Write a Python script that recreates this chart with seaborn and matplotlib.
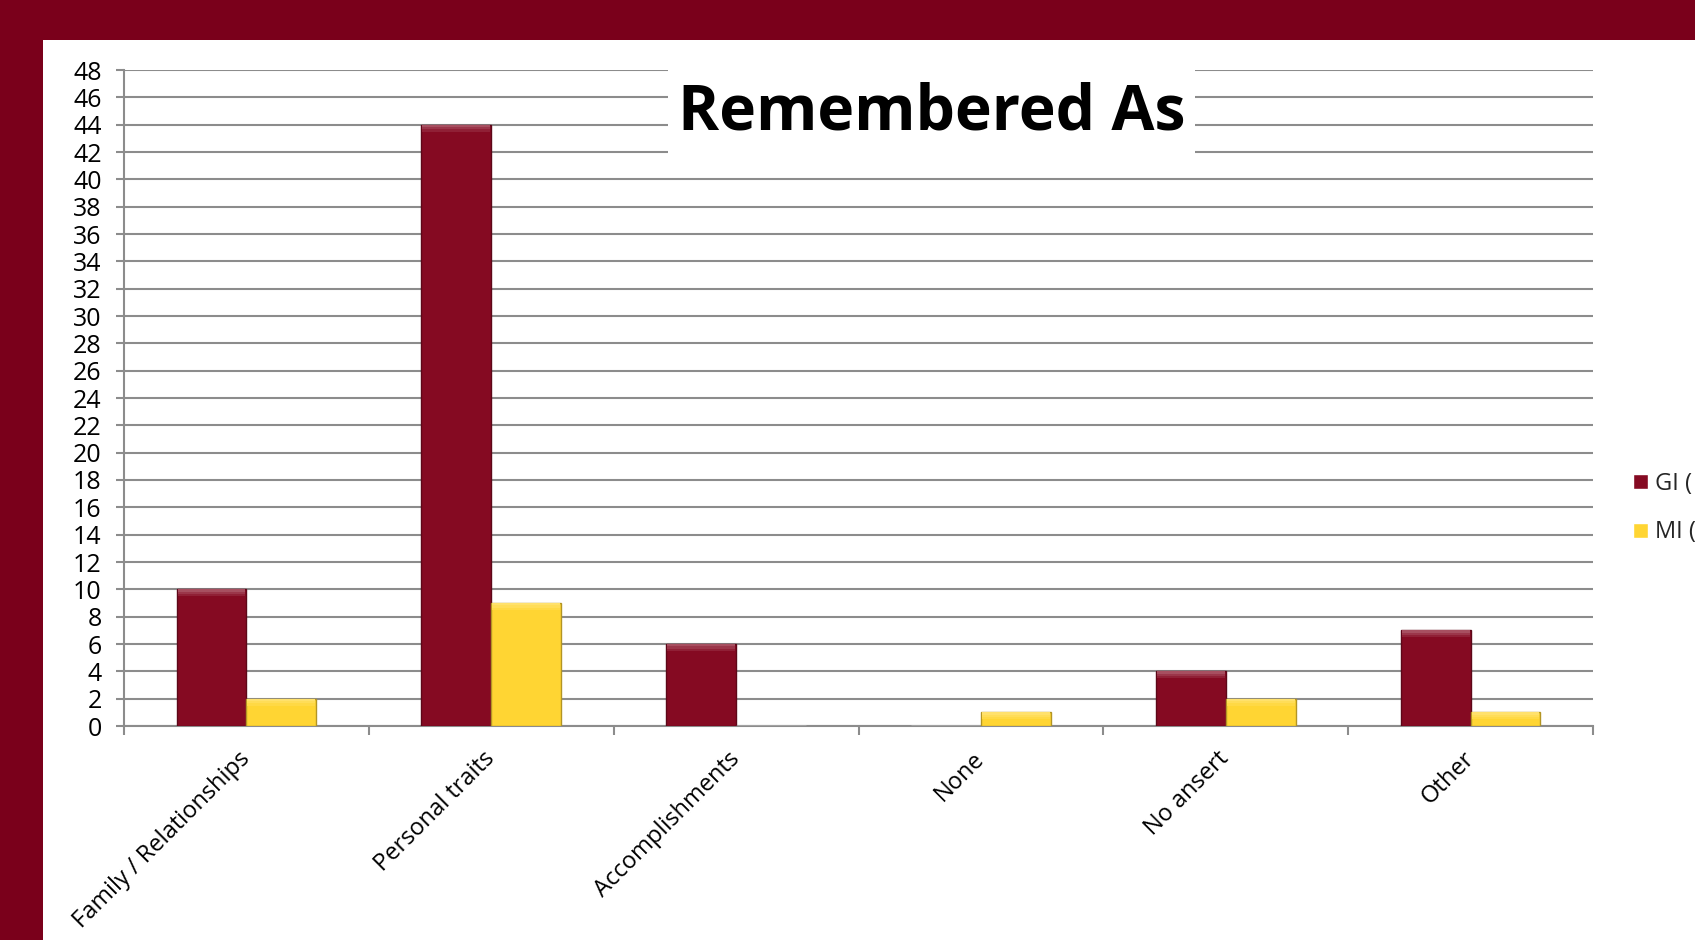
import pandas as pd
import matplotlib.pyplot as plt
import seaborn as sns
from matplotlib.patches import Rectangle

# chart data
categories = ['Family / Relationships', 'Personal traits', 'Accomplishments',
              'None', 'No ansert', 'Other']
gi_counts = [10, 44, 6, 0, 4, 7]
mi_counts = [2, 9, 0, 1, 2, 1]
series_names = ['GI (', 'MI (']
y_ticks = list(range(0, 49, 2))

frame_red = '#7A001B'
bar_red = '#850A22'
bar_yellow = '#FFD533'
grid_grey = '#8C8C8C'

df = pd.DataFrame({
    'category': categories * 2,
    'count': gi_counts + mi_counts,
    'series': [series_names[0]] * len(categories) + [series_names[1]] * len(categories),
})

sns.set_theme(style='white')
plt.rcParams['font.family'] = ['Open Sans', 'DejaVu Sans']

fig = plt.figure(figsize=(16.95, 9.40), dpi=100)
fig.patch.set_facecolor('white')

# dark red slide frame (top band and left band)
fig.patches.append(Rectangle((0, 1 - 40 / 940), 1, 40 / 940, transform=fig.transFigure,
                             facecolor=frame_red, edgecolor='none', zorder=0))
fig.patches.append(Rectangle((0, 0), 43 / 1695, 1, transform=fig.transFigure,
                             facecolor=frame_red, edgecolor='none', zorder=0))

ax = fig.add_axes([124 / 1695, 1 - 726 / 940, (1593 - 124) / 1695, (726 - 70) / 940])
ax.set_facecolor('none')

sns.barplot(data=df, x='category', y='count', hue='series', order=categories,
            hue_order=series_names, palette=[bar_red, bar_yellow], width=0.57,
            saturation=1, ax=ax, legend=True, zorder=3)

# bevel-ish look: darker edge + soft lighter strips at the top of every bar
for bar in ax.patches:
    h = bar.get_height()
    if h <= 0:
        continue
    fc = bar.get_facecolor()
    bar.set_edgecolor((fc[0] * 0.7, fc[1] * 0.7, fc[2] * 0.7, 1))
    bar.set_linewidth(1.0)
    for k, amt in enumerate([0.28, 0.18, 0.09]):
        light = tuple(min(1, c + (1 - c) * amt) for c in fc[:3])
        top = h - 0.17 * k
        ax.add_patch(Rectangle((bar.get_x() + 0.004, top - 0.17), bar.get_width() - 0.008,
                               0.17, facecolor=light, edgecolor='none', zorder=3.5))

ax.set_ylim(0, 48)
ax.set_xlim(-0.5, len(categories) - 0.5)
ax.set_yticks(y_ticks)
ax.set_xlabel('')
ax.set_ylabel('')

ax.yaxis.grid(True, color=grid_grey, linewidth=1.5)
ax.set_axisbelow(True)
for side in ['top', 'right']:
    ax.spines[side].set_visible(False)
for side in ['left', 'bottom']:
    ax.spines[side].set_color(grid_grey)
    ax.spines[side].set_linewidth(1.5)

ax.tick_params(axis='y', which='major', left=True, length=6, width=1.5,
               color=grid_grey, pad=10, labelsize=18, labelcolor='black')

# category ticks sit between groups
ax.set_xticks([i - 0.5 for i in range(len(categories) + 1)], minor=True)
ax.tick_params(axis='x', which='minor', bottom=True, length=6.5, width=1.5,
               color=grid_grey)
ax.tick_params(axis='x', which='major', bottom=False, length=0, pad=21,
               labelsize=17, labelcolor='black')
for lbl in ax.get_xticklabels():
    lbl.set_rotation(45)
    lbl.set_ha('right')
    lbl.set_va('center')
    lbl.set_rotation_mode('anchor')

# title sits on a white box over the gridlines
ax.add_patch(Rectangle((0.370, 0.863), 0.359, 0.152, transform=ax.transAxes,
                       facecolor='white', edgecolor='none', zorder=4, clip_on=False))
ax.text(0.5497, 0.934, 'Remembered As', transform=ax.transAxes, ha='center',
        va='center', fontsize=45, fontweight='bold', color='black', zorder=5)

# legend hangs at the right edge, as on the slide
handles, labels = ax.get_legend_handles_labels()
ax.legend_.remove()
fig.legend(handles, labels, loc='center left', bbox_to_anchor=(1624 / 1695, 1 - 508 / 940),
           frameon=False, fontsize=17, handlelength=0.6, handleheight=0.6,
           handletextpad=0.3, labelspacing=1.05, borderaxespad=0)

fig.savefig('out.png', dpi=100)
